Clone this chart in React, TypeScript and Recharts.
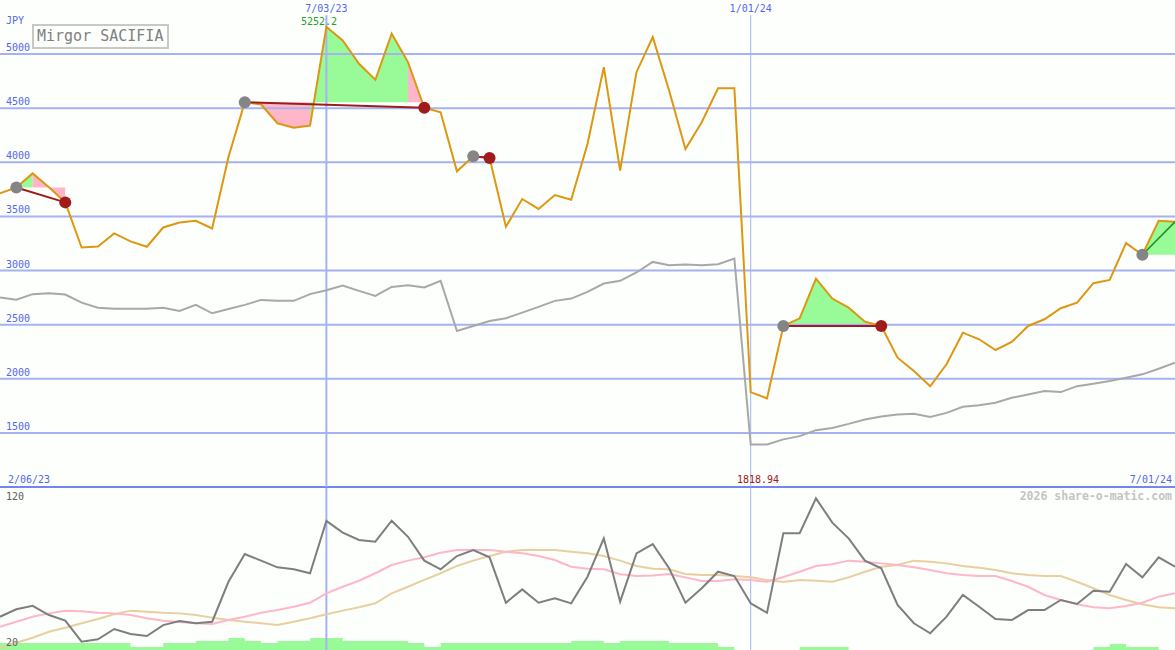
import React from 'react';
import { ComposedChart, Line, Area, XAxis, YAxis, ReferenceLine, ReferenceDot } from 'recharts';

// weekly closes, JPY
const price = [
  3713, 3768, 3898, 3770, 3630, 3213, 3222, 3343, 3269, 3220,
  3398, 3444, 3460, 3389, 4050, 4556, 4534, 4361, 4319, 4340,
  5252.2, 5127, 4911, 4763, 5189, 4926, 4504, 4463, 3917, 4056,
  4041, 3405, 3661, 3569, 3698, 3655, 4170, 4880, 3923, 4833,
  5157, 4664, 4124, 4370, 4685, 4685, 1877, 1818.94, 2488, 2559,
  2926, 2741, 2657, 2528, 2488, 2195, 2071, 1930, 2134, 2426,
  2365, 2266, 2340, 2488, 2550, 2652, 2704, 2883, 2914, 3254,
  3146, 3460, 3450,
];

// relative strength line (grey)
const relative = [
  2750, 2731, 2782, 2791, 2778, 2704, 2657, 2648, 2648, 2648,
  2657, 2627, 2683, 2605, 2645, 2683, 2729, 2720, 2720, 2782,
  2818, 2861, 2812, 2766, 2849, 2865, 2843, 2905, 2442, 2488,
  2534, 2559, 2611, 2664, 2720, 2741, 2803, 2880, 2905, 2982,
  3080, 3050, 3056, 3050, 3059, 3111, 1393, 1393, 1440, 1470,
  1525, 1546, 1583, 1624, 1652, 1670, 1676, 1648, 1685, 1741,
  1756, 1778, 1824, 1855, 1886, 1877, 1932, 1954, 1979, 2010,
  2041, 2093, 2148,
];

const oscillator = [
  41.9, 46.8, 49.1, 43.0, 39.3, 25.5, 27.0, 33.8, 30.5, 29.2,
  36.4, 39.1, 37.6, 38.6, 64.9, 83.2, 78.8, 74.4, 73.1, 70.5,
  104.9, 97.2, 92.4, 91.3, 105.1, 94.5, 78.8, 73.1, 81.8, 85.8,
  81.0, 51.1, 59.9, 51.1, 54.0, 50.7, 68.2, 93.5, 51.8, 83.6,
  89.7, 73.8, 51.1, 60.6, 71.5, 68.7, 50.7, 44.5, 96.8, 96.8,
  119.8, 103.8, 93.5, 78.8, 73.8, 49.6, 37.6, 31.0, 41.9, 56.2,
  48.5, 40.4, 39.7, 46.3, 46.3, 52.9, 50.3, 59.0, 58.4, 76.6,
  67.8, 81.0, 74.8,
];

const fastAvg = [
  35.3, 38.6, 41.9, 44.1, 45.9, 45.5, 44.5, 44.1, 43.0, 40.9,
  39.3, 38.4, 37.6, 37.1, 39.7, 41.9, 44.5, 46.3, 48.5, 51.1,
  57.3, 61.6, 65.6, 70.5, 75.9, 78.8, 81.0, 84.0, 85.8, 85.8,
  85.8, 84.7, 83.6, 81.8, 79.2, 74.8, 73.5, 73.1, 69.8, 68.7,
  69.1, 70.0, 67.8, 65.4, 65.4, 66.5, 66.1, 64.9, 68.0, 71.5,
  75.3, 76.4, 78.8, 78.1, 77.0, 75.9, 74.4, 72.6, 70.5, 69.3,
  68.7, 68.7, 65.4, 61.6, 56.2, 52.9, 50.1, 48.1, 47.4, 48.9,
  51.1, 55.1, 57.3,
];

const slowAvg = [
  21.1, 24.8, 28.1, 32.0, 34.7, 37.6, 40.4, 43.5, 45.9, 45.2,
  44.5, 44.1, 43.0, 41.3, 39.7, 38.6, 37.6, 36.4, 38.6, 40.9,
  43.5, 45.9, 48.1, 50.7, 57.3, 61.6, 66.1, 70.5, 75.3, 78.8,
  81.8, 84.7, 85.8, 85.8, 85.8, 84.7, 83.6, 81.8, 78.8, 75.3,
  73.5, 73.1, 70.0, 69.3, 69.3, 68.7, 67.8, 66.1, 64.7, 66.1,
  65.6, 64.9, 67.8, 71.5, 74.8, 75.9, 78.8, 78.1, 77.0, 75.3,
  74.1, 72.6, 70.5, 69.3, 68.7, 68.7, 64.9, 60.6, 56.2, 52.9,
  50.1, 48.1, 47.4,
];

const volume = [
  7, 7, 7, 7, 7, 7, 7, 7, 3, 3,
  7, 7, 9, 9, 12, 9, 7, 9, 9, 12,
  12, 9, 9, 9, 9, 7, 3, 7, 7, 7,
  7, 7, 7, 7, 7, 9, 9, 7, 9, 9,
  9, 7, 7, 7, 3, 0, 0, 0, 0, 3,
  3, 3, 0, 0, 0, 0, 0, 0, 0, 0,
  0, 0, 0, 0, 0, 0, 0, 3, 6, 3,
  3, 0, 0,
];

const priceTicks = [1500, 2000, 2500, 3000, 3500, 4000, 4500, 5000];
const dateMarks = [
  { idx: 20, label: '7/03/23' },
  { idx: 46, label: '1/01/24' },
];

// trades: buy index, sell index (last one still open)
const tradeBuys = [1, 15, 29, 48, 70];
const tradeSells = [4, 26, 30, 54, 72];
const gainSpans = [[1, 2], [19, 25], [48, 54], [70, 72]];
const lossSpans = [[2, 4], [15, 19], [25, 26], [29, 30]];

const MONO = 'DejaVu Sans Mono';
const BLUE = '#5566ee';

const entryFor = (from: number) => {
  const k = tradeBuys.findIndex((b, j) => b <= from && from < tradeSells[j]);
  return price[tradeBuys[k]];
};

const spans = [
  ...gainSpans.map(([from, to]) => ({ from, to, level: entryFor(from), color: '#98fb98' })),
  ...lossSpans.map(([from, to]) => ({ from, to, level: entryFor(from), color: '#ffb6c8' })),
];

const rows = price.map((p, i) => {
  const row: any = {
    i,
    price: p,
    rel: relative[i],
    osc: oscillator[i],
    fast: fastAvg[i],
    slow: slowAvg[i],
    vol: volume[i],
  };
  spans.forEach((s, k) => {
    row[`s${k}`] = i >= s.from && i <= s.to ? [s.level, p] : null;
  });
  return row;
});

const PriceTick = (props: any) => (
  <text x={6} y={props.y - 3} fill={BLUE} fontSize={10} fontFamily={MONO}>
    {props.payload.value}
  </text>
);

const lastIdx = price.length - 1;

export default function App() {
  return (
    <div style={{ position: 'absolute', left: 0, top: 0, width: 1175, height: 650, background: '#fcfffc', overflow: 'hidden' }}>
      <div style={{ position: 'absolute', left: 0, top: 0 }}>
        <ComposedChart width={1175} height={489} data={rows} margin={{ top: 0, right: 0, bottom: 2, left: 0 }}>
          <XAxis dataKey="i" type="number" domain={[0, lastIdx]} hide />
          <YAxis
            domain={[1000, 5500]}
            ticks={priceTicks}
            interval={0}
            mirror
            axisLine={false}
            tickLine={false}
            tick={(p: any) => <PriceTick {...p} />}
          />
          {priceTicks.map((v) => (
            <ReferenceLine key={v} y={v} stroke="#a6b2f2" strokeWidth={2} />
          ))}
          <ReferenceLine y={1000} stroke="#7484f0" strokeWidth={2} />
          {dateMarks.map((d, k) => (
            <ReferenceLine
              key={d.label}
              segment={[{ x: d.idx, y: 5360 }, { x: d.idx, y: 1000 }]}
              stroke="#a6b2f2"
              strokeWidth={k === 0 ? 2 : 1}
              label={{ value: d.label, position: 'top', offset: 3, fill: BLUE, fontSize: 10, fontFamily: MONO }}
            />
          ))}
          {spans.map((s, k) => (
            <Area
              key={`s${k}`}
              dataKey={`s${k}`}
              type="linear"
              stroke="none"
              fill={s.color}
              fillOpacity={1}
              activeDot={false}
              isAnimationActive={false}
            />
          ))}
          <Line dataKey="rel" type="linear" stroke="#a8a8a8" strokeWidth={2} dot={false} activeDot={false} isAnimationActive={false} />
          <Line dataKey="price" type="linear" stroke="#dd9711" strokeWidth={2} dot={false} activeDot={false} isAnimationActive={false} />
          {tradeBuys.map((b, k) => (
            <ReferenceLine
              key={`t${k}`}
              segment={[{ x: b, y: price[b] }, { x: tradeSells[k], y: price[tradeSells[k]] }]}
              stroke={k === tradeBuys.length - 1 ? '#228b22' : '#a01c1c'}
              strokeWidth={k === tradeBuys.length - 1 ? 1.5 : 2}
            />
          ))}
          {tradeBuys.map((b) => (
            <ReferenceDot key={`b${b}`} x={b} y={price[b]} r={6} fill="#858585" stroke="none" />
          ))}
          {tradeSells.slice(0, -1).map((s) => (
            <ReferenceDot key={`e${s}`} x={s} y={price[s]} r={6} fill="#a01c1c" stroke="none" />
          ))}
        </ComposedChart>
      </div>
      <div style={{ position: 'absolute', left: 0, top: 488 }}>
        <ComposedChart width={1175} height={162} data={rows} margin={{ top: 0, right: 0, bottom: 0, left: 0 }}>
          <XAxis dataKey="i" type="number" domain={[0, lastIdx]} hide />
          <YAxis yAxisId="osc" domain={[20, 126.6]} hide />
          <YAxis yAxisId="vol" domain={[0, 162]} hide />
          {dateMarks.map((d, k) => (
            <ReferenceLine key={d.label} yAxisId="osc" x={d.idx} stroke="#a6b2f2" strokeWidth={k === 0 ? 2 : 1} />
          ))}
          <Area yAxisId="vol" dataKey="vol" type="stepAfter" stroke="none" fill="#98fb98" fillOpacity={1} activeDot={false} isAnimationActive={false} />
          <Line yAxisId="osc" dataKey="slow" type="linear" stroke="#e8cfa0" strokeWidth={2} dot={false} activeDot={false} isAnimationActive={false} />
          <Line yAxisId="osc" dataKey="fast" type="linear" stroke="#ffb6c8" strokeWidth={2} dot={false} activeDot={false} isAnimationActive={false} />
          <Line yAxisId="osc" dataKey="osc" type="linear" stroke="#7e7e7e" strokeWidth={2} dot={false} activeDot={false} isAnimationActive={false} />
        </ComposedChart>
      </div>
      <svg width={1175} height={650} style={{ position: 'absolute', left: 0, top: 0, pointerEvents: 'none' }}>
        <text x={6} y={24} fill={BLUE} fontSize={10} fontFamily={MONO}>JPY</text>
        <rect x={33} y={25} width={135} height={23} fill="none" stroke="#c8c8c8" strokeWidth={2} />
        <text x={37} y={41} fill="#808080" fontSize={15} fontFamily={MONO}>Mirgor SACIFIA</text>
        <text x={301} y={25} fill="#22a022" fontSize={10} fontFamily={MONO}>5252.2</text>
        <text x={8} y={483} fill={BLUE} fontSize={10} fontFamily={MONO}>2/06/23</text>
        <text x={1172} y={483} fill={BLUE} fontSize={10} fontFamily={MONO} textAnchor="end">7/01/24</text>
        <text x={758} y={483} fill="#a01818" fontSize={10} fontFamily={MONO} textAnchor="middle">1818.94</text>
        <text x={6} y={500} fill="#606060" fontSize={10} fontFamily={MONO}>120</text>
        <text x={6} y={646} fill="#606060" fontSize={10} fontFamily={MONO}>20</text>
        <text x={1172} y={500} fill="#c4c4c4" fontSize={11.5} fontWeight="bold" fontFamily={MONO} textAnchor="end">2026 share-o-matic.com</text>
      </svg>
    </div>
  );
}
